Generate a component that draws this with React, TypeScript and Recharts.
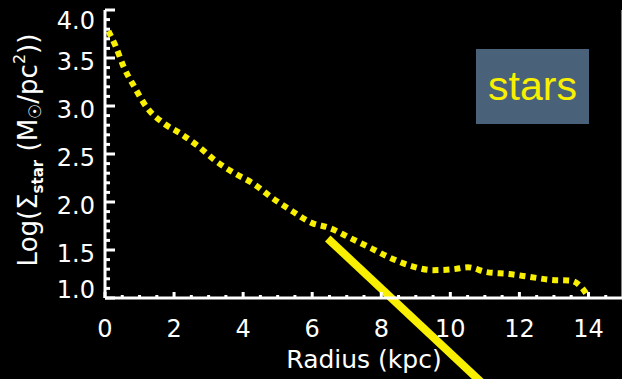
import { LineChart, Line, XAxis, YAxis, ReferenceLine } from 'recharts';

// stellar surface density profile
const radius = [0.1, 0.3, 0.55, 0.85, 1.2, 1.7, 2.2, 2.7, 3.2, 3.75, 4.3, 4.85, 5.4, 6.0, 6.5, 7.1, 7.7, 8.25, 8.9, 9.5, 10.1, 10.5, 11.05, 11.7, 12.3, 12.9, 13.5, 13.8, 14.0];
const logSigma = [3.78, 3.63, 3.4, 3.2, 2.99, 2.82, 2.71, 2.58, 2.43, 2.3, 2.19, 2.04, 1.91, 1.78, 1.73, 1.625, 1.52, 1.42, 1.33, 1.29, 1.3, 1.32, 1.27, 1.25, 1.22, 1.19, 1.18, 1.11, 1.01];

// exponential disk fit (straight line in log space)
const fitRadius = [6.45, 11.2];
const fitLog = [1.62, 0.02];

const xTicks = [0, 0.5, 1, 1.5, 2, 2.5, 3, 3.5, 4, 4.5, 5, 5.5, 6, 6.5, 7, 7.5, 8, 8.5, 9, 9.5, 10, 10.5, 11, 11.5, 12, 12.5, 13, 13.5, 14, 14.5];
const yTicks = [1.0, 1.1, 1.2, 1.3, 1.4, 1.5, 1.6, 1.7, 1.8, 1.9, 2.0, 2.1, 2.2, 2.3, 2.4, 2.5, 2.6, 2.7, 2.8, 2.9, 3.0, 3.1, 3.2, 3.3, 3.4, 3.5, 3.6, 3.7, 3.8, 3.9, 4.0];

const profile = radius.map((r, i) => ({ r, v: logSigma[i] }));

const FONT = 'DejaVu Sans';
const WHITE = '#ffffff';
const YELLOW = '#f8f000';

const PLOT_TOP = 10;
const PLOT_BOTTOM = 298;

const isMajor = (v: number, step: number) => Math.abs(v / step - Math.round(v / step)) < 1e-6;

const BottomTick = (props: any) => {
  const { x, y, payload } = props;
  const major = isMajor(payload.value, 2);
  return (
    <g>
      <line x1={x} y1={y} x2={x} y2={y - (major ? 6 : 3)} stroke={WHITE} strokeWidth={3} />
      {major && (
        <text x={x} y={y + 39} textAnchor="middle" fill={WHITE} fontSize={24} fontFamily={FONT}>
          {payload.value}
        </text>
      )}
    </g>
  );
};

const TopTick = (props: any) => {
  const { x, y, payload } = props;
  const major = isMajor(payload.value, 2);
  return <line x1={x} y1={y} x2={x} y2={y + (major ? 6 : 3)} stroke={WHITE} strokeWidth={3} />;
};

const LeftTick = (props: any) => {
  const { x, y, payload } = props;
  const major = isMajor(payload.value, 0.5);
  // IDL keeps end labels inside the axis range
  const mid = Math.min(Math.max(y + 3, PLOT_TOP + 10), PLOT_BOTTOM - 9);
  return (
    <g>
      <line x1={x} y1={y} x2={x + (major ? 10 : 5)} y2={y} stroke={WHITE} strokeWidth={3} />
      {major && (
        <text x={x - 10} y={mid + 8.5} textAnchor="end" fill={WHITE} fontSize={24} fontFamily={FONT}>
          {payload.value.toFixed(1)}
        </text>
      )}
    </g>
  );
};

const RightTick = (props: any) => {
  const { x, y, payload } = props;
  const major = isMajor(payload.value, 0.5);
  return <line x1={x} y1={y} x2={x - (major ? 10 : 5)} y2={y} stroke={WHITE} strokeWidth={3} />;
};

const XLabel = () => (
  <text x={364} y={368} textAnchor="middle" fill={WHITE} fontSize={25} fontFamily={FONT}>
    Radius (kpc)
  </text>
);

const YLabel = () => (
  <text transform="translate(37,150) rotate(-90)" x={0} y={0} textAnchor="middle" fill={WHITE} fontSize={26} fontFamily={FONT}>
    Log(Σ
    <tspan fontSize={15} fontWeight="bold" dy={6}>star</tspan>
    <tspan dy={-6}> (M</tspan>
    <tspan fontSize={17} dy={4}>☉</tspan>
    <tspan dy={-4}>/pc</tspan>
    <tspan fontSize={16} dy={-12}>2</tspan>
    <tspan dy={12}>))</tspan>
  </text>
);

export default function App() {
  return (
    <div style={{ position: 'fixed', left: 0, top: 0, width: 622, height: 379, overflow: 'hidden', background: '#000' }}>
      <LineChart width={624} height={379} data={profile} margin={{ top: PLOT_TOP, right: 0, bottom: 0, left: 0 }}>
        <XAxis
          dataKey="r"
          type="number"
          domain={[0, 15]}
          ticks={xTicks}
          interval={0}
          height={81}
          tickSize={0}
          tickMargin={0}
          tick={BottomTick}
          axisLine={{ stroke: WHITE, strokeWidth: 3 }}
          label={<XLabel />}
        />
        <XAxis
          xAxisId="top"
          orientation="top"
          type="number"
          domain={[0, 15]}
          ticks={xTicks}
          interval={0}
          height={0}
          tickSize={0}
          tickMargin={0}
          tick={TopTick}
          axisLine={{ stroke: WHITE, strokeWidth: 3 }}
        />
        <YAxis
          type="number"
          domain={[1, 4]}
          allowDataOverflow
          ticks={yTicks}
          interval={0}
          width={105}
          tickSize={0}
          tickMargin={0}
          tick={LeftTick}
          axisLine={{ stroke: WHITE, strokeWidth: 3 }}
          label={<YLabel />}
        />
        <YAxis
          yAxisId="right"
          orientation="right"
          type="number"
          domain={[1, 4]}
          ticks={yTicks}
          interval={0}
          width={1}
          tickSize={0}
          tickMargin={0}
          tick={RightTick}
          axisLine={{ stroke: WHITE, strokeWidth: 3 }}
        />
        <Line
          dataKey="v"
          type="monotone"
          stroke={YELLOW}
          strokeWidth={6}
          strokeDasharray="6 5"
          dot={false}
          activeDot={false}
          isAnimationActive={false}
        />
        <ReferenceLine
          segment={[
            { x: fitRadius[0], y: fitLog[0] },
            { x: fitRadius[1], y: fitLog[1] },
          ]}
          stroke={YELLOW}
          strokeWidth={8}
          ifOverflow="visible"
        />
      </LineChart>
      <div
        style={{
          position: 'absolute',
          left: 476,
          top: 49,
          width: 113,
          height: 75,
          background: '#4a6279',
          color: '#f8f000',
          fontFamily: 'Liberation Sans',
          fontSize: 41,
          lineHeight: '75px',
          textAlign: 'center',
        }}
      >
        stars
      </div>
    </div>
  );
}
